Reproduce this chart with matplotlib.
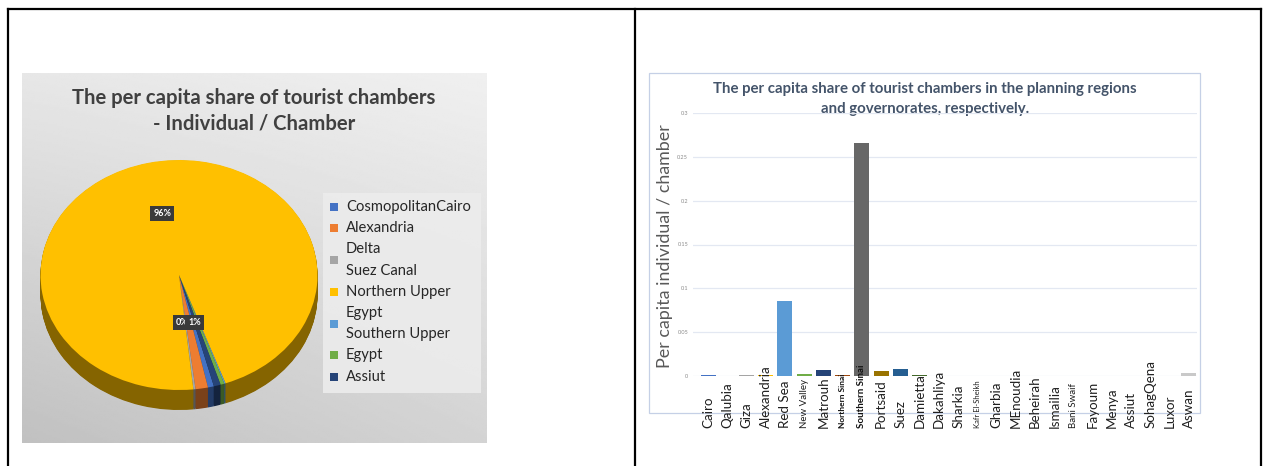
import numpy as np
import matplotlib.pyplot as plt
import matplotlib.colors as mcolors
from matplotlib.patches import Rectangle
from matplotlib.transforms import blended_transform_factory

plt.rcParams['font.family'] = ['Lato', 'DejaVu Sans']

# ---- pie: share per planning region (legend order) ----
regions = ["CosmopolitanCairo", "Alexandria", "Delta\nSuez Canal", "Northern Upper",
           "Egypt\nSouthern Upper", "Egypt", "Assiut"]
region_share = [0.7, 1.45, 0.25, 96.2, 0.15, 0.45, 0.8]
region_colors = ["#4472C4", "#ED7D31", "#A5A5A5", "#FFC000", "#5B9BD5", "#70AD47", "#264478"]

# ---- bars: per capita share per governorate ----
governorates = ["Cairo", "Qalubia", "Giza", "Alexandria", "Red Sea", "New Valley", "Matrouh",
                "Northern Sinai", "Southern Sinai", "Portsaid", "Suez", "Damietta", "Dakahliya",
                "Sharkia", "Kafr El-Sheikh", "Gharbia", "MEnoudia", "Beheirah", "Ismailia",
                "Bani Swaif", "Fayoum", "Menya", "Assiut", "SohagQena", "Luxor", "Aswan"]
per_capita = [0.0015, 0.0, 0.0006, 0.0006, 0.086, 0.0018, 0.0065, 0.0012, 0.266, 0.0052,
              0.0085, 0.0012, 0.0004, 0.0004, 0.0004, 0.0004, 0.0004, 0.0004, 0.0004,
              0.0004, 0.0004, 0.0004, 0.0004, 0.0004, 0.0004, 0.0035]
bar_colors = ["#4472C4", "#ED7D31", "#A5A5A5", "#FFC000", "#5B9BD5", "#70AD47", "#264478",
              "#9E480E", "#676767", "#997300", "#255E91", "#43682B", "#A9BDE6", "#F6C3A0",
              "#D6D6D6", "#FFE28A", "#B4D2EE", "#C3DFB0", "#9FB4DA", "#F3B892", "#CFCFCF",
              "#F0D68A", "#A9C8E8", "#C9C9C9", "#F4C9A8", "#C9C9C9"]
yticks = [0, 0.05, 0.1, 0.15, 0.2, 0.25, 0.3]
ytick_labels = ["0", "0.05", "0.1", "0.15", "0.2", "0.25", "0.3"]

W, H = 1263, 466
fig = plt.figure(figsize=(W / 100, H / 100), dpi=100)


def px_axes(x0, y0, x1, y1, z=1):
    return fig.add_axes([x0 / W, 1 - y1 / H, (x1 - x0) / W, (y1 - y0) / H], zorder=z)


# background layer in pixel coordinates
bg = px_axes(0, 0, W, H, z=0)
bg.set_xlim(0, W)
bg.set_ylim(H, 0)
bg.axis('off')

# table borders
for xs, ys in [([8, 8], [9, H]), ([635, 635], [9, H]), ([1261, 1261], [9, H]), ([8, 1261], [9, 9])]:
    bg.plot(xs, ys, color='black', lw=1.6, solid_capstyle='projecting')

# ====== LEFT: pie picture ======
gy, gx = np.mgrid[0:1:200j, 0:1:260j]
shade = 0.905 - 0.11 * gy + 0.035 * gx - 0.04 * (1 - gx) * gy
bg.imshow(shade, extent=(22, 487, 443, 73), cmap='gray', vmin=0, vmax=1,
          aspect='auto', interpolation='bilinear', zorder=1)

bg.text(254, 111, "The per capita share of tourist chambers\n- Individual / Chamber",
        ha='center', va='center', fontsize=14.6, fontweight='bold', color='#404040',
        linespacing=1.35, zorder=3)

pie_ax = px_axes(40.5, 160, 317.5, 410, z=2)
depth = 20 / 115
start = -75.4
side_colors = [tuple(c * 0.52 for c in mcolors.to_rgb(col)) for col in region_colors]
for k in np.linspace(depth, 0.005, 30):
    pie_ax.pie(region_share, colors=side_colors, startangle=start, counterclock=False,
               center=(0, -k), radius=1, wedgeprops=dict(linewidth=0))
pie_ax.pie(region_share, colors=region_colors, startangle=start, counterclock=False,
           center=(0, 0), radius=1, wedgeprops=dict(linewidth=0))
pie_ax.set_aspect('auto')
pie_ax.set_xlim(-1, 1)
pie_ax.set_ylim(-1 - depth, 1)
pie_ax.axis('off')
pie_ax.patch.set_visible(False)

# percentage labels (Excel keeps only the non-overlapping ones readable)
total = sum(region_share)
label_style = {"Northern Upper": (0.55, 'center'), "Delta\nSuez Canal": (0.42, 'right'),
               "Alexandria": (0.42, 'left')}
theta = start
mids = {}
for name, val in zip(regions, region_share):
    span = val / total * 360
    mids[name] = theta - span / 2
    theta -= span
for name, (r, ha) in label_style.items():
    ang = np.deg2rad(mids["Alexandria"] if r < 0.5 else mids[name])
    pct = region_share[regions.index(name)] / total * 100
    pie_ax.text(r * np.cos(ang), r * np.sin(ang), f"{pct:.0f}%", ha=ha, va='center',
                fontsize=6.5, fontweight='bold', color='white',
                bbox=dict(boxstyle='square,pad=0.35', fc='#3A3A3A', ec='none'))

# legend box
bg.add_patch(Rectangle((323, 193), 158, 200, fc='#ECECEC', ec='none', alpha=0.9, zorder=3))
line_y0, line_step = 207, 21.2
line = 0
for name, col in zip(regions, region_colors):
    parts = name.split("\n")
    rows = []
    for p in parts:
        y = line_y0 + line * line_step
        bg.text(346, y, p, ha='left', va='center', fontsize=10.6, color='#262626', zorder=4)
        rows.append(y)
        line += 1
    my = np.mean(rows)
    bg.add_patch(Rectangle((330, my - 4), 8, 8, fc=col, ec='none', zorder=4))

# ====== RIGHT: bar chart ======
bg.add_patch(Rectangle((649, 73), 551, 340, fill=False, ec='#C5D0E6', lw=0.9, zorder=2))
bg.text(925, 89, "The per capita share of tourist chambers in the planning regions",
        ha='center', va='center', fontsize=10.8, fontweight='bold', color='#44546A', zorder=3)
bg.text(925, 109, "and governorates, respectively.",
        ha='center', va='center', fontsize=10.8, fontweight='bold', color='#44546A', zorder=3)
bg.text(665, 246, "Per capita individual / chamber", rotation=90, ha='center', va='center',
        fontsize=12.9, color='#595959', zorder=3)

ax = px_axes(693, 113, 1197, 376, z=2)
ax.patch.set_visible(False)
x = np.arange(len(governorates))
ax.bar(x, per_capita, width=0.78, color=bar_colors, edgecolor='none', zorder=3)
ax.set_xlim(-0.78, 25.42)
ax.set_ylim(0, 0.3)
ax.set_yticks(yticks)
ax.set_yticklabels(ytick_labels, fontsize=4, color='#8C8C8C')
ax.tick_params(axis='y', length=0, pad=3.5)
ax.set_xticks([])
ax.grid(axis='y', color='#E3E8F2', lw=0.9, zorder=0)
for s in ax.spines.values():
    s.set_visible(False)

# rotated category labels, bottom-anchored like the source
small = {"New Valley": (7, 'normal'), "Kafr El-Sheikh": (5.5, 'normal'),
         "Bani Swaif": (7, 'normal'), "Northern Sinai": (6, 'bold'),
         "Southern Sinai": (7, 'bold')}
trans = blended_transform_factory(ax.transData, ax.transAxes)
label_base = -(428 - 376) / 263
for i, name in enumerate(governorates):
    fs, fw = small.get(name, (9.6, 'normal'))
    ax.text(i, label_base, name, rotation=90, ha='center', va='bottom', fontsize=fs,
            fontweight=fw, color='#1F1F1F' if fw == 'normal' else '#111111',
            transform=trans, clip_on=False, zorder=5)

fig.savefig("out.png", dpi=100)
